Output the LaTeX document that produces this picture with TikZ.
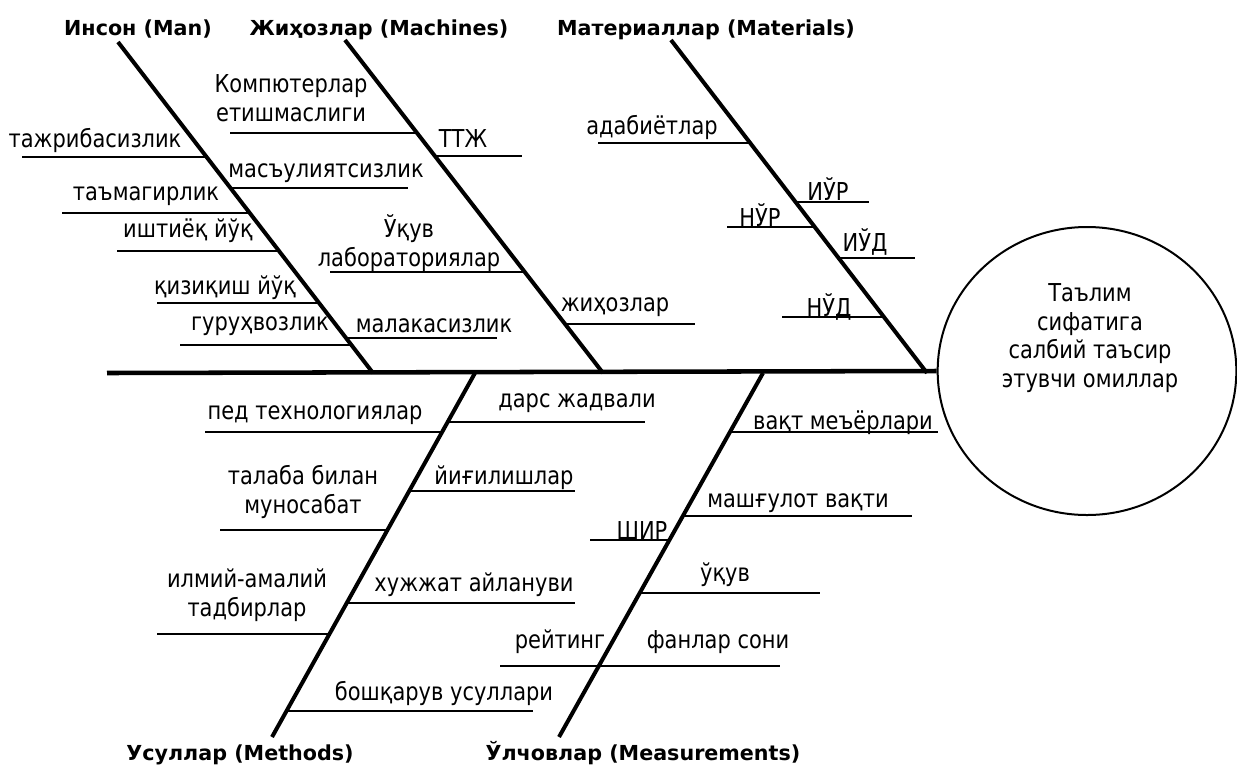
\documentclass[tikz,border=0pt]{standalone}
\usepackage{fontspec}
\setmainfont{DejaVu Sans}
\newfontfamily\lblfont[FakeStretch=0.85]{DejaVu Sans}
\usetikzlibrary{shapes.geometric}

\tikzset{
  bone/.style={line width=3pt},
  spine/.style={line width=3.4pt},
  twig/.style={line width=1.1pt},
  cause/.style={font=\lblfont\fontsize{18.5}{21.5}\selectfont, align=center, inner sep=0pt},
  catname/.style={font=\bfseries\fontsize{15.5}{18}\selectfont, anchor=base, inner sep=0pt},
}

\begin{document}
\begin{tikzpicture}[x=0.75pt,y=-0.75pt]

\useasboundingbox (0,0) rectangle (1237,776);

% head of the fish
\node[draw, ellipse, line width=1.5pt, minimum width=224pt, minimum height=216pt] (effect) at (1087,371) {};
\node[cause] (effecttext) at (1090,338) {Таълим\\сифатига\\салбий таъсир\\этувчи омиллар};

% spine and bones
\coordinate (tail) at (107,373);
\coordinate (manT) at (118,42);   \coordinate (manB) at (373,373);
\coordinate (machT) at (345,40);  \coordinate (machB) at (603,373);
\coordinate (matT) at (671,40);   \coordinate (matB) at (927,373);
\coordinate (methT) at (475,373); \coordinate (methB) at (272,737);
\coordinate (measT) at (763,373); \coordinate (measB) at (559,737);

\draw[spine] (tail) -- (effect.west);
\draw[bone] (manT) -- (manB);
\draw[bone] (machT) -- (machB);
\draw[bone] (matT) -- (matB);
\draw[bone] (methT) -- (methB);
\draw[bone] (measT) -- (measB);

\node[catname] (man) at (138,35) {Инсон (Man)};
\node[catname] (mach) at (379,35) {Жиҳозлар (Machines)};
\node[catname] (mat) at (706,35) {Материаллар (Materials)};
\node[catname] (meth) at (240,760) {Усуллар (Methods)};
\node[catname] (meas) at (643,760) {Ўлчовлар (Measurements)};

% Man
\draw[twig] (22,157) -- (206.6,157);
\draw[twig] (62,213) -- (249.7,213);
\draw[twig] (117,251) -- (279,251);
\draw[twig] (157,303) -- (319.1,303);
\draw[twig] (180,345) -- (351.4,345);
\draw[twig] (230.5,188) -- (408,188);
\draw[twig] (346,338) -- (497,338);

\node[cause] (tajriba) at (95,140) {тажрибасизлик};
\node[cause] (tamagir) at (146,196) {таъмагирлик};
\node[cause] (ishtiyoq) at (188,231) {иштиёқ йўқ};
\node[cause] (qiziqish) at (225,288) {қизиқиш йўқ};
\node[cause] (guruh) at (260,326) {гуруҳвозлик};
\node[cause] (masul) at (326,173) {масъулиятсизлик};
\node[cause] (malaka) at (434,326) {малакасизлик};

% Machines
\draw[twig] (230,133) -- (417.1,133);
\draw[twig] (330,272) -- (524.8,272);
\draw[twig] (434.9,156) -- (522,156);
\draw[twig] (565,324) -- (695,324);

\node[cause] (komp) at (291,98) {Компютерлар\\етишмаслиги};
\node[cause] (lab) at (409,243) {Ўқув\\лабораториялар};
\node[cause] (ttj) at (463,139) {ТТЖ};
\node[cause] (jihoz) at (615,307) {жиҳозлар};

% Materials
\draw[twig] (598,143) -- (750.2,143);
\draw[twig] (727,227) -- (814.8,227);
\draw[twig] (782,317) -- (884,317);
\draw[twig] (795.5,202) -- (869,202);
\draw[twig] (838.6,258) -- (915,258);

\node[cause] (adab) at (652,127) {адабиётлар};
\node[cause] (nur) at (760,215) {НЎР};
\node[cause] (nud) at (829,307) {НЎД};
\node[cause] (iur) at (828,189) {ИЎР};
\node[cause] (iud) at (865,242) {ИЎД};

% Methods
\draw[twig] (205,432) -- (442.1,432);
\draw[twig] (220,530) -- (387.4,530);
\draw[twig] (157,634) -- (329.4,634);
\draw[twig] (447.7,422) -- (645,422);
\draw[twig] (409.2,491) -- (575,491);
\draw[twig] (346.7,603) -- (575,603);
\draw[twig] (286.5,711) -- (533,711);

\node[cause] (ped) at (315,415) {пед технологиялар};
\node[cause] (talaba) at (303,492) {талаба билан\\муносабат};
\node[cause] (ilmiy) at (247,595) {илмий-амалий\\тадбирлар};
\node[cause] (dars) at (577,403) {дарс жадвали};
\node[cause] (yigilish) at (504,478) {йиғилишлар};
\node[cause] (hujjat) at (474,585) {хужжат айлануви};
\node[cause] (boshqaruv) at (444,693) {бошқарув усуллари};

% Measurements
\draw[twig] (729.9,432) -- (938,432);
\draw[twig] (682.9,516) -- (912,516);
\draw[twig] (639.7,593) -- (820,593);
\draw[twig] (500,666) -- (780,666);
\draw[twig] (590,540) -- (669.4,540);

\node[cause] (vaqt) at (843,423) {вақт меъёрлари};
\node[cause] (mashgulot) at (798,503) {машғулот вақти};
\node[cause] (uquv) at (725,575) {ўқув};
\node[cause] (fanlar) at (718,642) {фанлар сони};
\node[cause] (shir) at (642,530) {ШИР};
\node[cause] (reyting) at (560,642) {рейтинг};

\end{tikzpicture}
\end{document}
